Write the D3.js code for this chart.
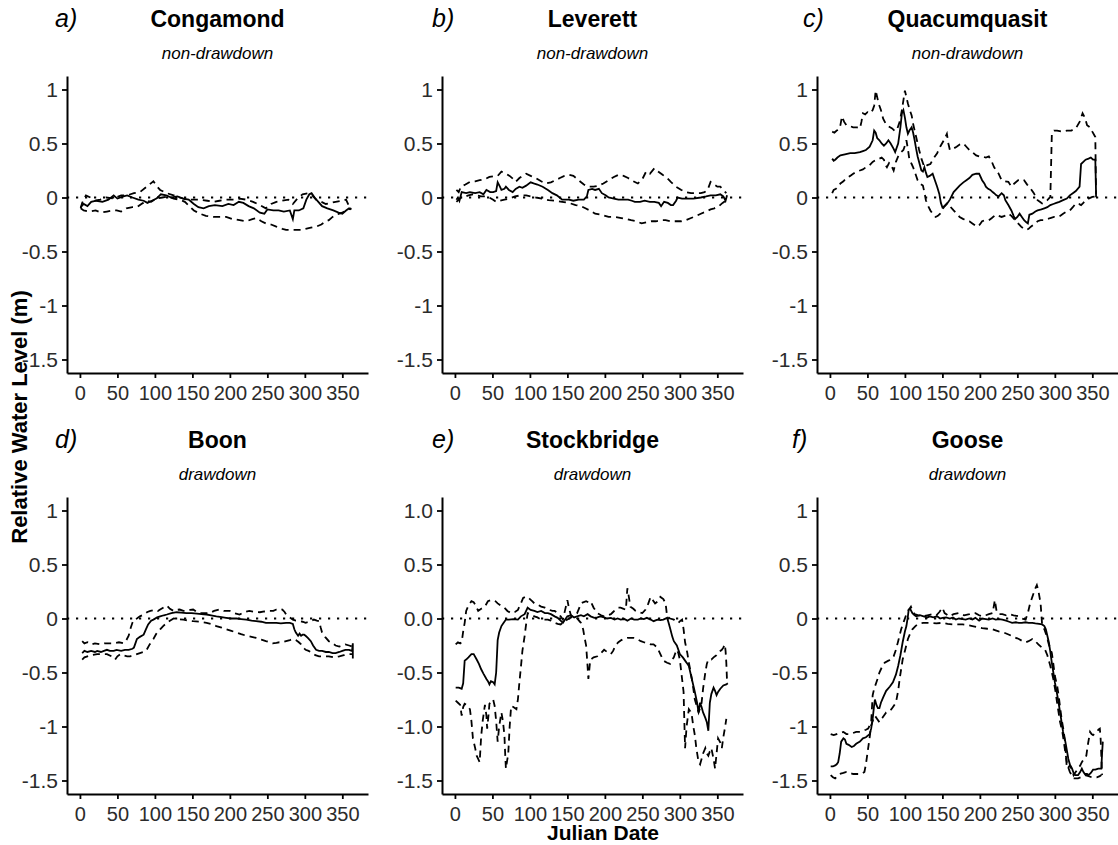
<!DOCTYPE html>
<html>
<head>
<meta charset="utf-8">
<script src="https://cdn.jsdelivr.net/npm/d3@7"></script>
<style>
  body { margin: 0; background: #fff; }
  svg { display: block; font-family: "Liberation Sans", Arial, sans-serif; }
</style>
</head>
<body>
<svg id="chart"></svg>
<script>
const width = 1118;
const height = 845;

const lakeNames = ["Congamond", "Leverett", "Quacumquasit", "Boon", "Stockbridge", "Goose"];
const panelTags = ["a)", "b)", "c)", "d)", "e)", "f)"];
const lakeTypes = ["non-drawdown", "non-drawdown", "non-drawdown", "drawdown", "drawdown", "drawdown"];
const dayTicks = [0, 50, 100, 150, 200, 250, 300, 350];
const levelTicks = [1, 0.5, 0, -0.5, -1, -1.5];

// [julian day, relative water level (m)]
const congamondMean = [[1,-0.09],[5,-0.06],[10,-0.08],[15,-0.04],[22,-0.03],[30,-0.04],[38,-0.02],[45,0.02],[50,-0.01],[58,0.01],[63,0.02],[70,0.0],[78,-0.02],[85,-0.03],[90,-0.05],[96,-0.03],[102,-0.01],[108,0.03],[115,0.02],[122,0.0],[130,0.01],[138,-0.01],[145,-0.02],[152,-0.06],[158,-0.09],[165,-0.1],[172,-0.08],[180,-0.07],[190,-0.08],[198,-0.06],[205,-0.07],[212,-0.04],[218,-0.05],[225,-0.08],[232,-0.1],[240,-0.14],[246,-0.15],[250,-0.11],[258,-0.12],[265,-0.12],[272,-0.13],[280,-0.12],[284,-0.2],[286,-0.12],[292,-0.12],[298,-0.1],[302,-0.02],[306,0.03],[309,0.04],[313,0.0],[318,-0.04],[323,-0.08],[330,-0.1],[338,-0.12],[345,-0.14],[350,-0.15],[355,-0.12],[359,-0.1],[362,-0.11]];
const congamondMax = [[1,-0.1],[3,-0.05],[8,0.02],[14,0.0],[20,-0.03],[27,-0.02],[35,0.0],[45,-0.01],[55,0.02],[63,0.02],[72,0.04],[80,0.05],[89,0.1],[98,0.15],[103,0.1],[107,0.07],[116,0.04],[125,0.02],[133,0.0],[142,-0.02],[150,-0.02],[160,-0.02],[170,-0.03],[178,-0.04],[186,-0.03],[195,-0.02],[205,-0.02],[213,-0.01],[222,-0.02],[231,-0.04],[240,-0.07],[248,-0.1],[255,-0.06],[262,-0.04],[270,-0.03],[278,-0.02],[284,-0.06],[290,-0.01],[297,0.03],[304,0.04],[310,0.02],[315,-0.02],[322,-0.04],[328,-0.06],[335,-0.05],[341,-0.04],[350,-0.03],[355,-0.02],[359,-0.08],[362,-0.1]];
const congamondMin = [[1,-0.1],[5,-0.12],[12,-0.13],[21,-0.12],[28,-0.14],[36,-0.13],[44,-0.12],[49,-0.12],[55,-0.13],[62,-0.1],[70,-0.09],[76,-0.09],[82,-0.06],[89,-0.03],[95,-0.04],[102,-0.01],[110,0.0],[118,0.01],[125,-0.01],[133,-0.02],[140,-0.04],[146,-0.08],[152,-0.12],[160,-0.15],[168,-0.17],[178,-0.18],[186,-0.18],[195,-0.18],[204,-0.2],[213,-0.21],[222,-0.22],[230,-0.2],[235,-0.19],[242,-0.22],[248,-0.24],[255,-0.25],[262,-0.27],[270,-0.29],[275,-0.3],[282,-0.3],[288,-0.3],[295,-0.3],[301,-0.29],[308,-0.28],[315,-0.27],[322,-0.25],[328,-0.22],[332,-0.21],[337,-0.18],[342,-0.16],[346,-0.15],[350,-0.14],[354,-0.12],[358,-0.11],[362,-0.1]];

const leverettMean = [[2,-0.02],[4,0.0],[6,-0.03],[9,0.05],[15,0.04],[20,0.05],[27,0.04],[33,0.05],[38,0.03],[42,0.07],[47,0.05],[51,0.05],[55,0.06],[57,0.14],[60,0.1],[62,0.07],[66,0.08],[68,0.1],[72,0.07],[77,0.05],[81,0.08],[86,0.1],[90,0.09],[95,0.11],[101,0.14],[105,0.13],[110,0.12],[117,0.1],[124,0.07],[130,0.04],[136,0.02],[143,-0.02],[152,-0.02],[158,-0.03],[165,-0.02],[172,-0.02],[176,0.01],[178,0.07],[183,0.08],[187,0.07],[192,0.08],[196,0.04],[201,0.02],[205,0.0],[212,-0.01],[218,-0.02],[225,-0.02],[231,-0.02],[236,-0.03],[240,-0.04],[247,-0.04],[253,-0.03],[260,-0.04],[266,-0.04],[272,-0.05],[275,-0.08],[279,-0.04],[284,-0.05],[288,-0.07],[291,-0.07],[295,-0.03],[297,0.0],[303,-0.01],[310,-0.01],[318,-0.01],[328,0.0],[335,0.01],[341,0.02],[348,0.02],[354,0.03],[358,0.01],[361,-0.03],[363,0.02]];
const leverettMax = [[2,0.07],[5,0.05],[8,0.1],[14,0.12],[20,0.145],[27,0.15],[33,0.16],[40,0.17],[46,0.19],[53,0.2],[57,0.2],[62,0.24],[68,0.22],[73,0.2],[78,0.17],[81,0.145],[86,0.18],[90,0.2],[95,0.22],[101,0.2],[108,0.18],[115,0.15],[121,0.13],[128,0.14],[134,0.16],[140,0.18],[146,0.2],[152,0.21],[158,0.2],[165,0.16],[172,0.12],[178,0.1],[185,0.1],[192,0.11],[198,0.13],[205,0.16],[212,0.19],[218,0.21],[225,0.2],[231,0.18],[238,0.15],[244,0.13],[250,0.17],[255,0.24],[260,0.22],[266,0.27],[271,0.24],[277,0.21],[283,0.18],[288,0.145],[295,0.1],[302,0.07],[308,0.05],[315,0.04],[322,0.04],[328,0.04],[333,0.05],[337,0.07],[341,0.145],[346,0.12],[350,0.1],[354,0.1],[358,0.07],[362,0.04]];
const leverettMin = [[2,-0.04],[5,-0.02],[8,0.0],[11,0.0],[18,0.02],[24,0.03],[29,0.02],[35,0.01],[40,0.01],[46,0.0],[51,-0.02],[55,-0.04],[60,-0.03],[66,-0.02],[73,-0.01],[80,0.01],[88,0.02],[95,0.02],[101,0.01],[108,0.0],[116,-0.01],[125,-0.025],[134,-0.03],[143,-0.04],[152,-0.05],[161,-0.07],[168,-0.08],[174,-0.1],[180,-0.12],[187,-0.15],[195,-0.16],[205,-0.18],[213,-0.18],[222,-0.19],[229,-0.2],[235,-0.21],[242,-0.22],[249,-0.24],[255,-0.23],[262,-0.22],[268,-0.22],[275,-0.21],[281,-0.21],[288,-0.22],[295,-0.22],[302,-0.22],[308,-0.21],[315,-0.19],[322,-0.17],[328,-0.15],[335,-0.13],[341,-0.11],[346,-0.1],[352,-0.08],[357,-0.05],[361,-0.03]];

const quacMean = [[3,0.36],[5,0.34],[7,0.35],[10,0.37],[14,0.39],[20,0.4],[27,0.41],[33,0.41],[40,0.42],[44,0.43],[48,0.44],[53,0.47],[57,0.53],[59,0.62],[61,0.6],[63,0.55],[66,0.53],[69,0.5],[72,0.48],[75,0.5],[78,0.53],[81,0.5],[85,0.45],[87,0.42],[91,0.5],[94,0.65],[96,0.78],[98,0.81],[100,0.74],[102,0.65],[104,0.59],[106,0.62],[109,0.65],[111,0.6],[113,0.53],[115,0.45],[117,0.38],[120,0.3],[122,0.25],[124,0.24],[126,0.28],[128,0.23],[130,0.19],[133,0.2],[137,0.22],[140,0.16],[143,0.1],[146,0.03],[148,-0.05],[150,-0.09],[153,-0.08],[156,-0.06],[160,-0.02],[165,0.05],[169,0.08],[173,0.11],[178,0.14],[182,0.16],[186,0.18],[190,0.21],[195,0.22],[199,0.22],[203,0.16],[206,0.13],[208,0.1],[211,0.08],[214,0.07],[217,0.05],[219,0.04],[222,0.02],[225,0.01],[229,0.04],[232,0.02],[234,-0.025],[238,-0.07],[242,-0.12],[245,-0.17],[247,-0.2],[250,-0.18],[253,-0.15],[256,-0.18],[259,-0.21],[262,-0.23],[264,-0.24],[266,-0.16],[270,-0.15],[274,-0.13],[277,-0.12],[282,-0.11],[286,-0.1],[290,-0.09],[294,-0.07],[298,-0.06],[302,-0.05],[306,-0.04],[311,-0.025],[316,-0.01],[320,0.02],[324,0.04],[328,0.06],[333,0.1],[335,0.31],[338,0.33],[341,0.35],[345,0.36],[348,0.37],[351,0.35],[354,0.35],[355,0.03]];
const quacMax = [[3,0.61],[6,0.6],[9,0.62],[12,0.63],[14,0.67],[16,0.75],[19,0.7],[22,0.67],[27,0.66],[31,0.65],[36,0.65],[40,0.64],[42,0.7],[44,0.78],[47,0.77],[50,0.79],[54,0.78],[57,0.81],[59,0.85],[61,0.99],[64,0.9],[66,0.85],[68,0.81],[71,0.73],[74,0.69],[78,0.66],[83,0.64],[86,0.62],[89,0.62],[93,0.7],[96,0.81],[98,0.9],[100,0.99],[102,0.93],[104,0.87],[107,0.8],[109,0.76],[111,0.68],[113,0.62],[116,0.53],[119,0.44],[122,0.36],[126,0.28],[130,0.3],[134,0.31],[138,0.36],[143,0.41],[147,0.47],[152,0.53],[156,0.59],[158,0.5],[160,0.44],[164,0.45],[169,0.47],[173,0.49],[178,0.5],[182,0.47],[186,0.44],[190,0.42],[195,0.39],[199,0.38],[203,0.38],[208,0.37],[212,0.38],[216,0.33],[219,0.28],[222,0.25],[225,0.22],[229,0.16],[233,0.15],[238,0.145],[242,0.1],[246,0.13],[251,0.16],[255,0.17],[259,0.16],[263,0.12],[266,0.1],[269,0.07],[272,0.04],[275,0.0],[277,-0.025],[280,-0.04],[283,-0.055],[287,-0.04],[290,-0.025],[294,0.006],[296,0.59],[299,0.62],[303,0.62],[310,0.61],[316,0.62],[322,0.62],[328,0.64],[333,0.7],[337,0.78],[340,0.74],[343,0.67],[347,0.65],[350,0.61],[354,0.56],[355,0.0]];
const quacMin = [[3,0.04],[5,0.07],[8,0.08],[11,0.1],[14,0.13],[18,0.15],[22,0.18],[27,0.2],[31,0.22],[36,0.24],[40,0.25],[44,0.26],[48,0.28],[53,0.3],[57,0.33],[62,0.35],[66,0.36],[69,0.37],[72,0.35],[74,0.3],[76,0.28],[79,0.32],[81,0.31],[83,0.28],[85,0.25],[88,0.33],[91,0.38],[95,0.42],[98,0.44],[100,0.48],[102,0.53],[104,0.45],[106,0.35],[109,0.31],[111,0.28],[114,0.22],[117,0.16],[120,0.13],[124,0.11],[126,0.05],[128,-0.025],[131,-0.08],[134,-0.12],[138,-0.16],[141,-0.18],[144,-0.17],[147,-0.15],[151,-0.1],[154,-0.07],[156,-0.055],[160,-0.08],[165,-0.12],[169,-0.15],[173,-0.18],[178,-0.2],[182,-0.21],[186,-0.22],[190,-0.24],[194,-0.26],[197,-0.27],[200,-0.25],[203,-0.22],[208,-0.21],[212,-0.21],[216,-0.19],[221,-0.16],[225,-0.17],[229,-0.18],[233,-0.17],[238,-0.15],[242,-0.17],[247,-0.21],[251,-0.24],[255,-0.27],[259,-0.29],[262,-0.3],[265,-0.29],[268,-0.27],[272,-0.25],[277,-0.22],[281,-0.21],[285,-0.21],[290,-0.2],[294,-0.19],[299,-0.18],[303,-0.18],[307,-0.17],[311,-0.15],[316,-0.13],[320,-0.12],[324,-0.09],[328,-0.055],[332,-0.06],[335,-0.07],[338,-0.05],[341,-0.025],[345,-0.01],[350,0.006],[355,0.01]];

const boonMean = [[3,-0.32],[6,-0.3],[10,-0.31],[15,-0.3],[20,-0.31],[23,-0.3],[28,-0.31],[32,-0.3],[36,-0.29],[40,-0.3],[45,-0.3],[49,-0.29],[55,-0.3],[60,-0.29],[65,-0.29],[70,-0.28],[72,-0.27],[74,-0.23],[76,-0.19],[80,-0.17],[85,-0.15],[88,-0.1],[91,-0.055],[95,-0.02],[98,-0.01],[103,0.01],[107,0.02],[112,0.03],[116,0.037],[122,0.05],[129,0.058],[135,0.055],[142,0.05],[149,0.05],[156,0.046],[162,0.04],[169,0.037],[175,0.03],[182,0.02],[189,0.012],[195,0.006],[202,0.0],[209,0.0],[215,-0.005],[222,-0.01],[229,-0.02],[235,-0.025],[242,-0.03],[248,-0.04],[255,-0.04],[262,-0.04],[268,-0.045],[275,-0.04],[280,-0.04],[284,-0.05],[286,-0.1],[288,-0.13],[291,-0.16],[293,-0.14],[295,-0.16],[297,-0.15],[299,-0.15],[301,-0.16],[304,-0.18],[308,-0.21],[311,-0.25],[315,-0.29],[319,-0.3],[323,-0.3],[328,-0.31],[332,-0.31],[337,-0.32],[341,-0.32],[346,-0.31],[350,-0.3],[354,-0.29],[359,-0.29],[363,-0.3],[364,-0.23],[364,-0.37]];
const boonMax = [[3,-0.21],[6,-0.23],[10,-0.22],[15,-0.24],[20,-0.23],[27,-0.24],[33,-0.23],[40,-0.23],[45,-0.23],[52,-0.22],[58,-0.23],[62,-0.2],[65,-0.16],[68,-0.08],[70,-0.04],[72,-0.01],[76,0.0],[80,0.02],[86,0.04],[90,0.06],[94,0.07],[100,0.08],[104,0.07],[107,0.083],[111,0.1],[116,0.12],[120,0.09],[125,0.07],[129,0.08],[133,0.083],[138,0.07],[142,0.07],[147,0.08],[151,0.083],[156,0.06],[160,0.05],[166,0.05],[173,0.05],[179,0.07],[186,0.083],[192,0.07],[200,0.07],[206,0.05],[213,0.037],[219,0.06],[226,0.07],[233,0.06],[240,0.058],[246,0.065],[253,0.07],[258,0.07],[262,0.083],[266,0.09],[270,0.083],[273,0.06],[275,0.037],[280,0.01],[284,-0.01],[288,-0.02],[293,-0.025],[297,-0.03],[301,-0.04],[306,-0.03],[312,-0.01],[316,-0.02],[319,-0.025],[321,-0.08],[323,-0.13],[327,-0.17],[332,-0.21],[337,-0.23],[341,-0.25],[346,-0.26],[350,-0.25],[354,-0.24],[359,-0.25],[363,-0.26]];
const boonMin = [[3,-0.38],[6,-0.36],[10,-0.35],[15,-0.34],[23,-0.33],[30,-0.33],[36,-0.33],[42,-0.35],[47,-0.38],[50,-0.35],[54,-0.33],[58,-0.34],[63,-0.35],[67,-0.35],[72,-0.34],[76,-0.33],[80,-0.32],[85,-0.31],[89,-0.29],[93,-0.24],[98,-0.19],[102,-0.14],[107,-0.1],[111,-0.07],[116,-0.04],[120,-0.02],[125,0.0],[130,-0.005],[138,-0.01],[145,-0.02],[151,-0.025],[160,-0.03],[169,-0.04],[175,-0.05],[182,-0.07],[189,-0.085],[195,-0.1],[202,-0.115],[209,-0.13],[215,-0.145],[222,-0.16],[229,-0.17],[235,-0.18],[242,-0.195],[248,-0.21],[253,-0.22],[257,-0.23],[262,-0.225],[266,-0.22],[270,-0.22],[275,-0.21],[280,-0.2],[284,-0.19],[288,-0.2],[292,-0.22],[295,-0.24],[298,-0.27],[301,-0.29],[305,-0.3],[310,-0.32],[314,-0.34],[319,-0.35],[325,-0.35],[332,-0.35],[339,-0.36],[346,-0.35],[352,-0.34],[359,-0.33],[363,-0.33]];

const stockMean = [[1,-0.64],[5,-0.64],[9,-0.65],[11,-0.6],[13,-0.39],[15,-0.38],[18,-0.36],[22,-0.33],[25,-0.33],[29,-0.38],[32,-0.42],[35,-0.47],[38,-0.51],[42,-0.56],[44,-0.58],[46,-0.61],[48,-0.58],[51,-0.59],[53,-0.61],[55,-0.5],[57,-0.2],[59,-0.13],[62,-0.07],[65,-0.04],[68,-0.01],[72,-0.01],[78,-0.005],[84,-0.01],[88,0.02],[93,0.04],[97,0.1],[101,0.08],[106,0.07],[110,0.06],[115,0.07],[120,0.05],[124,0.05],[128,0.04],[133,0.02],[137,0.006],[141,-0.02],[144,-0.04],[147,-0.01],[150,0.02],[155,0.03],[159,0.01],[163,0.02],[168,0.03],[172,0.02],[177,0.04],[181,0.02],[186,0.006],[190,0.01],[194,0.02],[199,0.01],[203,0.0],[208,0.006],[213,-0.01],[217,0.0],[221,-0.01],[226,-0.005],[230,-0.02],[235,0.0],[239,-0.01],[244,-0.01],[248,0.0],[252,-0.005],[256,0.006],[261,-0.01],[265,-0.025],[270,-0.01],[274,-0.015],[278,-0.01],[283,0.006],[285,-0.04],[287,-0.09],[290,-0.17],[292,-0.21],[296,-0.25],[300,-0.33],[304,-0.36],[307,-0.39],[310,-0.42],[312,-0.44],[314,-0.5],[316,-0.56],[318,-0.62],[320,-0.68],[323,-0.78],[325,-0.87],[327,-0.78],[329,-0.82],[331,-0.87],[334,-0.92],[336,-0.96],[338,-1.04],[340,-0.78],[342,-0.7],[345,-0.64],[347,-0.67],[349,-0.71],[351,-0.68],[354,-0.65],[358,-0.62],[362,-0.61],[364,-0.6]];
const stockMax = [[1,-0.24],[4,-0.22],[7,-0.23],[9,-0.22],[11,-0.12],[13,-0.04],[15,0.07],[18,0.12],[22,0.16],[25,0.15],[27,0.13],[29,0.1],[31,0.07],[35,0.09],[40,0.11],[44,0.16],[48,0.17],[51,0.17],[54,0.16],[57,0.14],[61,0.12],[66,0.1],[70,0.07],[75,0.05],[80,0.06],[84,0.08],[88,0.14],[91,0.19],[94,0.2],[97,0.2],[100,0.18],[103,0.16],[106,0.14],[110,0.13],[115,0.11],[120,0.1],[126,0.08],[130,0.07],[133,0.07],[137,0.05],[141,0.02],[144,-0.01],[147,0.08],[150,0.17],[152,0.1],[155,0.02],[159,0.03],[163,0.05],[166,0.1],[168,0.14],[171,0.15],[175,0.16],[178,0.15],[181,0.16],[185,0.1],[190,0.05],[195,0.03],[199,0.02],[204,0.03],[208,0.04],[211,0.06],[214,0.08],[218,0.1],[221,0.1],[225,0.09],[228,0.08],[230,0.28],[232,0.2],[234,0.11],[238,0.09],[241,0.07],[245,0.06],[250,0.05],[254,0.08],[258,0.14],[261,0.2],[264,0.17],[267,0.14],[271,0.16],[274,0.2],[278,0.18],[281,0.14],[283,0.02],[287,0.0],[292,-0.01],[295,-0.03],[298,-0.04],[301,-0.02],[303,-0.01],[305,-0.1],[307,-0.22],[310,-0.32],[312,-0.41],[314,-0.48],[316,-0.56],[318,-0.65],[320,-0.75],[323,-0.82],[325,-0.87],[327,-0.83],[329,-0.78],[331,-0.65],[334,-0.5],[336,-0.42],[338,-0.38],[340,-0.38],[342,-0.38],[345,-0.36],[347,-0.35],[349,-0.34],[351,-0.32],[354,-0.3],[356,-0.29],[358,-0.27],[360,-0.24],[361,-0.3],[362,-0.41],[363,-0.59]];
const stockMin = [[1,-0.76],[4,-0.78],[7,-0.8],[9,-0.9],[11,-0.82],[13,-0.79],[16,-0.8],[20,-0.84],[22,-0.95],[24,-1.11],[27,-1.2],[29,-1.27],[31,-1.3],[33,-1.33],[35,-1.09],[37,-0.95],[40,-0.8],[42,-0.9],[43,-1.02],[45,-0.88],[46,-0.79],[49,-0.76],[51,-0.75],[53,-0.81],[55,-0.95],[57,-1.14],[59,-1.0],[62,-0.87],[64,-0.95],[66,-1.08],[67,-1.25],[68,-1.39],[70,-1.3],[71,-1.27],[73,-1.0],[75,-0.81],[78,-0.82],[82,-0.84],[84,-0.75],[86,-0.59],[88,-0.45],[90,-0.3],[93,-0.16],[95,-0.05],[97,0.05],[101,0.04],[106,0.02],[110,0.01],[115,-0.01],[120,-0.01],[124,-0.01],[128,-0.02],[133,-0.04],[137,-0.05],[141,-0.055],[145,-0.03],[150,-0.01],[155,0.01],[159,0.02],[163,0.0],[168,-0.04],[171,-0.1],[173,-0.18],[175,-0.25],[177,-0.45],[178,-0.56],[180,-0.42],[181,-0.38],[185,-0.36],[190,-0.35],[195,-0.32],[199,-0.29],[203,-0.31],[208,-0.33],[211,-0.3],[214,-0.25],[218,-0.22],[222,-0.2],[225,-0.19],[230,-0.18],[235,-0.18],[239,-0.18],[243,-0.19],[248,-0.21],[252,-0.22],[256,-0.23],[261,-0.24],[265,-0.24],[270,-0.27],[274,-0.33],[278,-0.39],[283,-0.41],[287,-0.42],[290,-0.38],[292,-0.36],[294,-0.32],[296,-0.29],[298,-0.32],[300,-0.38],[302,-0.5],[305,-0.68],[306,-0.95],[307,-1.2],[309,-1.0],[312,-0.84],[314,-0.86],[316,-0.9],[318,-1.0],[320,-1.08],[322,-1.2],[325,-1.33],[327,-1.35],[329,-1.3],[331,-1.25],[334,-1.2],[336,-1.25],[338,-1.27],[340,-1.23],[342,-1.2],[345,-1.3],[347,-1.39],[349,-1.25],[351,-1.11],[354,-1.15],[356,-1.2],[358,-1.1],[360,-1.02],[362,-0.93]];

const gooseMean = [[1,-1.37],[4,-1.37],[7,-1.36],[9,-1.35],[11,-1.33],[13,-1.25],[15,-1.14],[18,-1.11],[20,-1.12],[22,-1.16],[25,-1.17],[29,-1.19],[32,-1.18],[35,-1.16],[40,-1.14],[44,-1.11],[48,-1.1],[53,-1.07],[55,-1.02],[57,-0.93],[59,-0.8],[60,-0.75],[62,-0.8],[64,-0.83],[66,-0.83],[68,-0.78],[71,-0.73],[75,-0.67],[80,-0.63],[84,-0.59],[88,-0.52],[91,-0.44],[94,-0.34],[97,-0.22],[100,-0.12],[102,-0.07],[104,0.02],[105,0.08],[107,0.09],[110,0.05],[113,0.03],[115,0.02],[120,0.03],[125,0.02],[130,0.01],[133,0.02],[138,0.01],[143,0.02],[147,0.0],[150,0.006],[155,0.01],[160,0.0],[164,0.01],[168,-0.01],[172,0.0],[177,-0.005],[181,-0.01],[186,0.0],[190,-0.01],[194,0.006],[199,-0.02],[203,0.0],[208,-0.005],[212,-0.01],[217,0.0],[221,-0.01],[226,-0.005],[230,-0.01],[235,-0.02],[239,-0.03],[243,-0.04],[248,-0.035],[252,-0.04],[256,-0.04],[261,-0.035],[265,-0.04],[270,-0.04],[274,-0.045],[279,-0.05],[283,-0.055],[286,-0.07],[288,-0.1],[290,-0.16],[292,-0.22],[294,-0.31],[296,-0.41],[298,-0.5],[300,-0.59],[303,-0.7],[305,-0.78],[307,-0.87],[309,-0.96],[311,-1.05],[314,-1.14],[316,-1.22],[318,-1.3],[320,-1.35],[323,-1.39],[325,-1.43],[327,-1.45],[331,-1.45],[334,-1.42],[336,-1.39],[338,-1.42],[340,-1.44],[343,-1.44],[345,-1.45],[348,-1.43],[351,-1.4],[354,-1.4],[358,-1.39],[362,-1.39],[363,-1.25],[364,-1.14]];
const gooseMax = [[1,-1.07],[5,-1.08],[9,-1.07],[13,-1.06],[18,-1.05],[22,-1.07],[27,-1.07],[31,-1.06],[35,-1.05],[40,-1.05],[44,-1.04],[48,-1.03],[51,-1.02],[53,-0.99],[55,-0.96],[57,-0.71],[59,-0.65],[62,-0.59],[64,-0.55],[66,-0.5],[70,-0.44],[73,-0.41],[78,-0.39],[82,-0.38],[85,-0.35],[88,-0.29],[91,-0.21],[95,-0.1],[99,-0.02],[102,0.04],[105,0.08],[108,0.11],[110,0.07],[113,0.04],[118,0.03],[124,0.02],[130,0.03],[137,0.04],[142,0.03],[146,0.06],[150,0.1],[153,0.05],[159,0.02],[165,0.04],[172,0.05],[179,0.03],[186,0.04],[190,0.05],[194,0.05],[199,0.03],[203,0.02],[208,0.03],[212,0.04],[217,0.05],[220,0.17],[222,0.08],[225,0.04],[230,0.04],[235,0.03],[239,0.04],[245,0.03],[252,0.02],[256,0.0],[261,-0.01],[264,0.05],[267,0.14],[270,0.2],[272,0.24],[274,0.28],[276,0.31],[278,0.26],[281,0.14],[283,-0.055],[286,-0.1],[289,-0.16],[292,-0.24],[296,-0.32],[298,-0.42],[300,-0.53],[303,-0.62],[305,-0.71],[307,-0.82],[309,-0.93],[312,-1.05],[314,-1.17],[316,-1.39],[318,-1.38],[320,-1.36],[323,-1.4],[325,-1.45],[328,-1.42],[331,-1.39],[334,-1.36],[336,-1.33],[339,-1.3],[342,-1.27],[344,-1.17],[347,-1.05],[349,-1.07],[351,-1.08],[354,-1.06],[356,-1.05],[358,-1.03],[360,-1.02],[361,-1.1],[362,-1.27],[363,-1.45]];
const gooseMin = [[1,-1.45],[4,-1.47],[7,-1.48],[10,-1.46],[13,-1.44],[18,-1.43],[22,-1.42],[27,-1.43],[31,-1.44],[36,-1.44],[40,-1.44],[44,-1.43],[46,-1.42],[48,-1.35],[51,-1.2],[53,-1.1],[55,-0.99],[58,-0.93],[60,-0.9],[63,-0.93],[66,-0.96],[70,-0.92],[75,-0.87],[79,-0.86],[82,-0.84],[85,-0.81],[88,-0.78],[91,-0.67],[93,-0.56],[95,-0.47],[97,-0.38],[100,-0.3],[104,-0.19],[107,-0.14],[110,-0.1],[114,-0.07],[117,-0.055],[124,-0.04],[133,-0.04],[142,-0.045],[150,-0.04],[157,-0.05],[164,-0.055],[170,-0.055],[177,-0.055],[183,-0.06],[190,-0.07],[197,-0.08],[203,-0.09],[210,-0.095],[217,-0.1],[221,-0.11],[225,-0.12],[232,-0.13],[239,-0.15],[245,-0.17],[252,-0.19],[257,-0.21],[261,-0.22],[265,-0.21],[270,-0.19],[274,-0.21],[278,-0.24],[283,-0.27],[287,-0.29],[290,-0.34],[294,-0.44],[296,-0.5],[298,-0.56],[301,-0.68],[303,-0.78],[305,-0.87],[307,-0.96],[310,-1.05],[312,-1.14],[314,-1.24],[316,-1.33],[318,-1.38],[320,-1.42],[323,-1.46],[325,-1.48],[328,-1.48],[331,-1.48],[335,-1.47],[340,-1.45],[345,-1.46],[349,-1.47],[353,-1.47],[356,-1.47],[360,-1.46],[362,-1.45]];

const meanSeries = [congamondMean, leverettMean, quacMean, boonMean, stockMean, gooseMean];
const maxSeries = [congamondMax, leverettMax, quacMax, boonMax, stockMax, gooseMax];
const minSeries = [congamondMin, leverettMin, quacMin, boonMin, stockMin, gooseMin];

// layout
const plotLeft = 67, plotTop = 76;
const colStep = 375, rowStep = 421;
const plotW = 301, plotH = 297;
const tagShift = [-12, -10, -14, -12, -10, -25];

const svg = d3.select("#chart")
    .attr("width", width)
    .attr("height", height);

const xScale = d3.scaleLinear()
    .domain([-17.25, 384.25])
    .range([0, plotW]);

const yScale = d3.scaleLinear()
    .domain([-1.625, 1.125])
    .range([plotH, 0]);

const line = d3.line()
    .x(d => xScale(d[0]))
    .y(d => yScale(d[1]));

lakeNames.forEach((name, i) => {
    const col = i % 3;
    const row = Math.floor(i / 3);
    const g = svg.append("g")
        .attr("transform", `translate(${plotLeft + col * colStep}, ${plotTop + row * rowStep})`);

    // tag, title, subtitle
    g.append("text")
        .attr("x", tagShift[i])
        .attr("y", -49)
        .attr("font-size", 25)
        .attr("font-style", "italic")
        .text(panelTags[i]);

    g.append("text")
        .attr("x", plotW / 2)
        .attr("y", -49)
        .attr("text-anchor", "middle")
        .attr("font-size", 23)
        .attr("font-weight", "bold")
        .text(name);

    g.append("text")
        .attr("x", plotW / 2)
        .attr("y", -17)
        .attr("text-anchor", "middle")
        .attr("font-size", 17)
        .attr("font-style", "italic")
        .text(lakeTypes[i]);

    // dotted zero line
    g.append("line")
        .attr("x1", 0)
        .attr("x2", plotW)
        .attr("y1", yScale(0))
        .attr("y2", yScale(0))
        .attr("stroke", "#000")
        .attr("stroke-width", 2.2)
        .attr("stroke-dasharray", "2.2,6.8");

    [maxSeries[i], minSeries[i]].forEach(s => {
        g.append("path")
            .datum(s)
            .attr("d", line)
            .attr("fill", "none")
            .attr("stroke", "#000")
            .attr("stroke-width", 1.8)
            .attr("stroke-dasharray", "7,5");
    });

    g.append("path")
        .datum(meanSeries[i])
        .attr("d", line)
        .attr("fill", "none")
        .attr("stroke", "#000")
        .attr("stroke-width", 1.8);

    // axes
    const fmt = name === "Stockbridge" ? (d => d.toFixed(1)) : (d => String(d));

    const xAxis = d3.axisBottom(xScale)
        .tickValues(dayTicks)
        .tickSize(5)
        .tickSizeOuter(0)
        .tickPadding(8);

    const yAxis = d3.axisLeft(yScale)
        .tickValues(levelTicks)
        .tickFormat(fmt)
        .tickSize(5)
        .tickSizeOuter(0)
        .tickPadding(4);

    const gx = g.append("g")
        .attr("transform", `translate(0, ${plotH})`)
        .call(xAxis);

    const gy = g.append("g")
        .call(yAxis);

    [gx, gy].forEach(a => {
        a.attr("font-family", null).attr("font-size", null);
        a.select(".domain").attr("stroke-width", 2);
        a.selectAll(".tick line").attr("stroke-width", 1.8);
        a.selectAll(".tick text").attr("fill", "#2b2b2b");
    });
    gx.selectAll(".tick text").attr("font-size", 20);
    gy.selectAll(".tick text").attr("font-size", 21);
});

// shared axis titles
svg.append("text")
    .attr("transform", "translate(27, 417) rotate(-90)")
    .attr("text-anchor", "middle")
    .attr("font-size", 22)
    .attr("font-weight", "bold")
    .text("Relative Water Level (m)");

svg.append("text")
    .attr("x", 603)
    .attr("y", 840)
    .attr("text-anchor", "middle")
    .attr("font-size", 21)
    .attr("font-weight", "bold")
    .text("Julian Date");
</script>
</body>
</html>
